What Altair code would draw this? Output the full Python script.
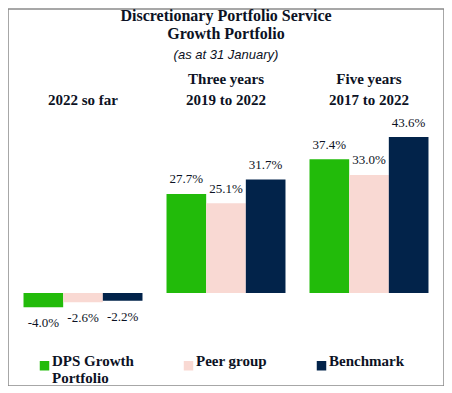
import altair as alt
import pandas as pd

# ---- data ----
PERIODS = ["2022 so far", "Three years\n2019 to 2022", "Five years\n2017 to 2022"]
SERIES = ["DPS Growth Portfolio", "Peer group", "Benchmark"]
DPS = [-4.0, 27.7, 37.4]
PEER = [-2.6, 25.1, 33.0]
BENCH = [-2.2, 31.7, 43.6]
COLORS = ["#22bb0a", "#f9d9d3", "#02234a"]
TITLE = ["Discretionary Portfolio Service", "Growth Portfolio"]
SUBTITLE = "(as at 31 January)"

rows = []
for i, p in enumerate(PERIODS):
    for s, vals in zip(SERIES, [DPS, PEER, BENCH]):
        rows.append({"period": p, "series": s, "value": vals[i]})
df = pd.DataFrame(rows)

INK = "#0c1224"
SERIF = "Liberation Serif"

x = alt.X(
    "period:N",
    sort=PERIODS,
    scale=alt.Scale(paddingInner=0.168, paddingOuter=0.1085),
    axis=alt.Axis(
        orient="top", title=None, domain=False, ticks=False, tickSize=0,
        labelAngle=0, labelPadding=0, offset=-77,
        labelFont=SERIF, labelFontSize=15, labelFontWeight="bold",
        labelColor=INK, labelBaseline="bottom", labelLineHeight=21,
        labelExpr="length(split(datum.label, '\\n')) == 1 ? ['', datum.label] : split(datum.label, '\\n')",
    ),
)
xo = alt.XOffset("series:N", sort=SERIES, scale=alt.Scale(paddingInner=0, paddingOuter=0))
y = alt.Y("value:Q", scale=alt.Scale(domain=[-26, 79.4], nice=False, zero=True), axis=None)

color = alt.Color(
    "series:N",
    sort=SERIES,
    scale=alt.Scale(domain=SERIES, range=COLORS),
    legend=alt.Legend(
        title=None, orient="none", legendX=29, legendY=349,
        direction="horizontal", columns=3, columnPadding=47,
        symbolType="square", symbolSize=90, symbolStrokeWidth=0,
        labelFont=SERIF, labelFontSize=15, labelFontWeight="bold",
        labelColor=INK, labelBaseline="alphabetic", labelOffset=0,
        labelLimit=300,
        labelExpr="datum.label == 'DPS Growth Portfolio' ? ['DPS Growth', 'Portfolio'] : [datum.label, '']",
    ),
)

base = alt.Chart(df).encode(x=x, xOffset=xo, y=y)

bars = base.mark_bar(strokeWidth=0).encode(color=color)

label = "(datum.value < 0 ? '-' : '') + format(abs(datum.value), '.1f') + '%'"
pos_text = base.transform_filter("datum.value >= 0").transform_calculate(lbl=label).mark_text(
    baseline="middle", dy=-14.5, font=SERIF, fontSize=13, color=INK
).encode(text="lbl:N")
neg_text = base.transform_filter("datum.value < 0").transform_calculate(lbl=label).mark_text(
    baseline="middle", dy=16, font=SERIF, fontSize=13, color=INK
).encode(text="lbl:N")

chart = alt.layer(bars, pos_text, neg_text).properties(
    width=436,
    height=377,
    padding=0,
    title=alt.TitleParams(
        text=TITLE, subtitle=SUBTITLE, anchor="middle", frame="group",
        font=SERIF, fontSize=16, fontWeight="bold", color=INK, lineHeight=18,
        subtitleFont="Liberation Sans", subtitleFontSize=13, subtitleFontStyle="italic",
        subtitleColor=INK, subtitlePadding=7, offset=-53,
    ),
).configure_view(stroke="#8a8a8a", strokeWidth=1.5)

chart.save("out.html", embed_options={"renderer": "svg", "actions": False})
